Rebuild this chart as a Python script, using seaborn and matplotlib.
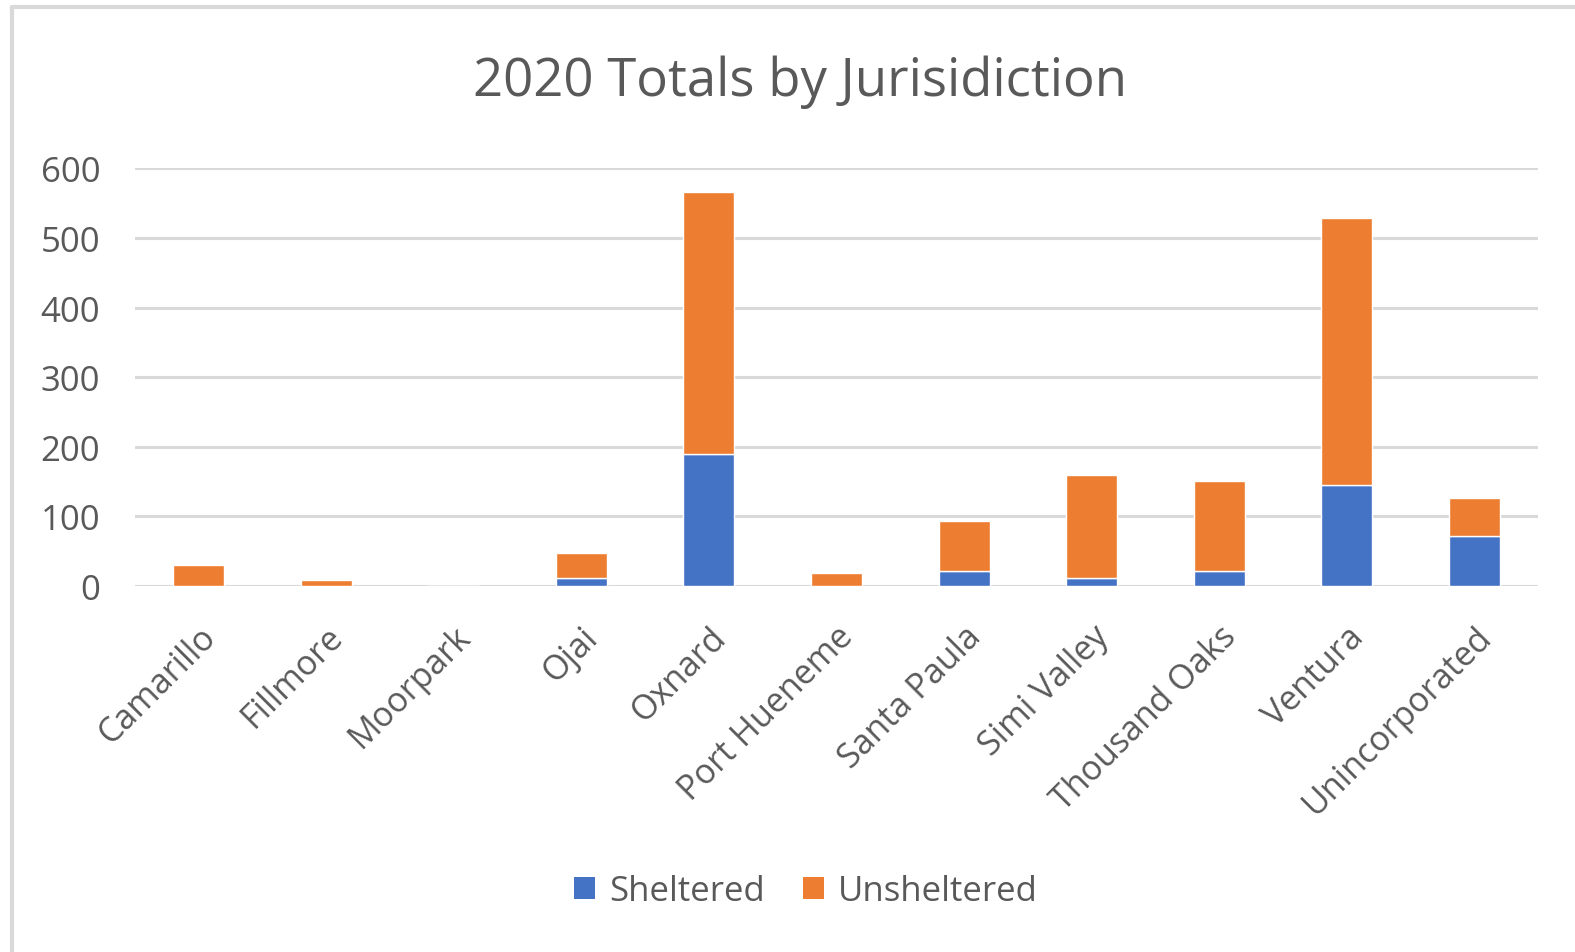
import matplotlib
matplotlib.use("Agg")
import matplotlib.pyplot as plt
import seaborn as sns
import pandas as pd
from matplotlib.patches import Patch
from matplotlib.lines import Line2D

jurisdictions = ["Camarillo", "Fillmore", "Moorpark", "Ojai", "Oxnard", "Port Hueneme",
                 "Santa Paula", "Simi Valley", "Thousand Oaks", "Ventura", "Unincorporated"]
sheltered = [0, 0, 0, 12, 190, 0, 21, 11, 21, 145, 72]
unsheltered = [30, 8, 0, 36, 376, 18, 72, 149, 130, 384, 55]
yticks = [0, 100, 200, 300, 400, 500, 600]

BLUE = "#4472C4"
ORANGE = "#ED7D31"
TEXT = "#595959"
GRID = "#D9D9D9"

sns.set_theme(style="white")
plt.rcParams["font.family"] = ["Open Sans", "DejaVu Sans"]

df = pd.DataFrame({"Jurisdiction": jurisdictions, "Sheltered": sheltered, "Unsheltered": unsheltered})

fig = plt.figure(figsize=(15.75, 9.53), dpi=100)
ax = fig.add_axes([135 / 1575, 1 - 587 / 953, (1538 - 135) / 1575, (587 - 169.3) / 953])

sns.barplot(data=df, x="Jurisdiction", y="Sheltered", color=BLUE, width=0.40,
            saturation=1, ax=ax, zorder=3)
sns.barplot(data=df, x="Jurisdiction", y="Unsheltered", color=ORANGE, width=0.40,
            saturation=1, ax=ax, bottom=df["Sheltered"], zorder=3)

ax.set_ylim(0, 600)
ax.set_xlim(-0.5, len(jurisdictions) - 0.5)
ax.set_yticks(yticks)
ax.set_yticklabels([str(v) for v in yticks], fontsize=25, color=TEXT)
ax.set_xticks(range(len(jurisdictions)))
ax.set_xticklabels(jurisdictions, rotation=45, ha="right", rotation_mode="anchor",
                   fontsize=24.5, color=TEXT)
ax.tick_params(axis="y", length=0, pad=25)
ax.tick_params(axis="x", length=0, pad=24)
ax.set_xlabel("")
ax.set_ylabel("")
for s in ax.spines.values():
    s.set_visible(False)
ax.yaxis.grid(True, color=GRID, linewidth=2.2, zorder=0)
ax.set_axisbelow(True)

fig.text(800 / 1575, 1 - 82 / 953, "2020 Totals by Jurisidiction", ha="center", va="center",
         fontsize=38, color=TEXT)

handles = [Patch(facecolor=BLUE, edgecolor="none", label="Sheltered"),
           Patch(facecolor=ORANGE, edgecolor="none", label="Unsheltered")]
fig.legend(handles=handles, loc="center", bbox_to_anchor=(806 / 1575, 1 - 892 / 953), ncol=2,
           frameon=False, fontsize=25, labelcolor=TEXT, handlelength=0.6, handleheight=0.6,
           handletextpad=0.4, columnspacing=1.1)

# outer chart frame (left and top edges)
fig.add_artist(Line2D([11.5 / 1575, 11.5 / 1575], [0, 1 - 7.5 / 953], color=GRID, linewidth=3,
                      transform=fig.transFigure))
fig.add_artist(Line2D([11.5 / 1575, 1], [1 - 7.5 / 953, 1 - 7.5 / 953], color=GRID, linewidth=3,
                      transform=fig.transFigure))

fig.savefig("out.png", dpi=100, facecolor="white")
